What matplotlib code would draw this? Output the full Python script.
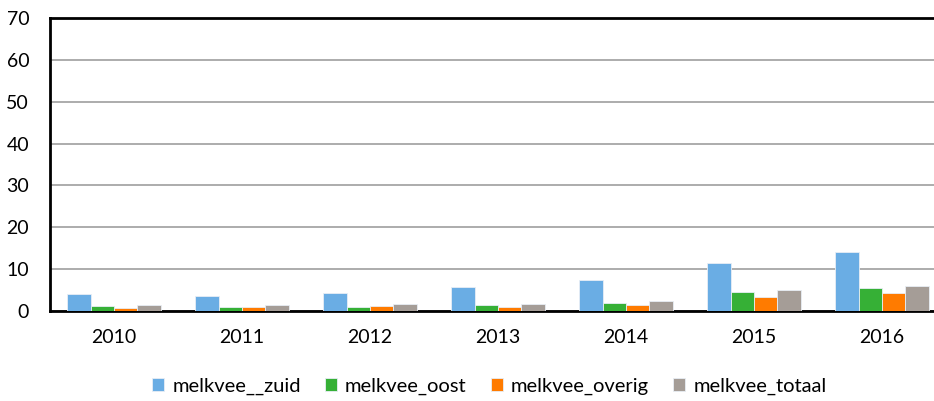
import numpy as np
import matplotlib.pyplot as plt

# jaren en reeksen
years = ['2010', '2011', '2012', '2013', '2014', '2015', '2016']
series_names = ['melkvee__zuid', 'melkvee_oost', 'melkvee_overig', 'melkvee_totaal']
zuid = [4.0, 3.7, 4.2, 5.7, 7.3, 11.5, 14.2]
oost = [1.2, 0.9, 0.9, 1.4, 2.0, 4.6, 5.6]
overig = [0.7, 0.9, 1.1, 1.0, 1.5, 3.3, 4.2]
totaal = [1.35, 1.4, 1.6, 1.75, 2.5, 4.9, 5.9]
colors = ['#6aade4', '#36b036', '#ff7b00', '#a59d97']

plt.rcParams['font.family'] = ['Lato', 'DejaVu Sans']

fig = plt.figure(figsize=(9.34, 4.01), dpi=100)
ax = fig.add_axes([50 / 934, 90 / 401, 896 / 934, 293 / 401])

x = np.arange(len(years))
w = 0.182
for i, (vals, name) in enumerate(zip([zuid, oost, overig, totaal], series_names)):
    ax.bar(x + (i - 1.5) * w, vals, width=w, color=colors[i], label=name,
           edgecolor='#e8eef5', linewidth=0.6, zorder=3)

ax.set_xlim(-0.5, len(years) - 0.5)
ax.set_ylim(0, 70)
ax.set_yticks(range(0, 71, 10))
ax.set_xticks(x)
ax.set_xticklabels(years)
ax.yaxis.grid(True, color='#a6a6a6', linewidth=1.3, zorder=0)
ax.tick_params(axis='both', length=0, labelsize=14, colors='black')
ax.tick_params(axis='x', pad=13)
ax.tick_params(axis='y', pad=15)
for s in ['left', 'bottom', 'top']:
    ax.spines[s].set_linewidth(2)
    ax.spines[s].set_color('black')
ax.spines['right'].set_visible(False)

fig.legend(loc='center', bbox_to_anchor=(0.524, 15 / 401), ncol=4, frameon=False,
           fontsize=14.5, handlelength=0.6, handleheight=0.6, handletextpad=0.4,
           columnspacing=1.2)

fig.savefig('out.png', dpi=100)
